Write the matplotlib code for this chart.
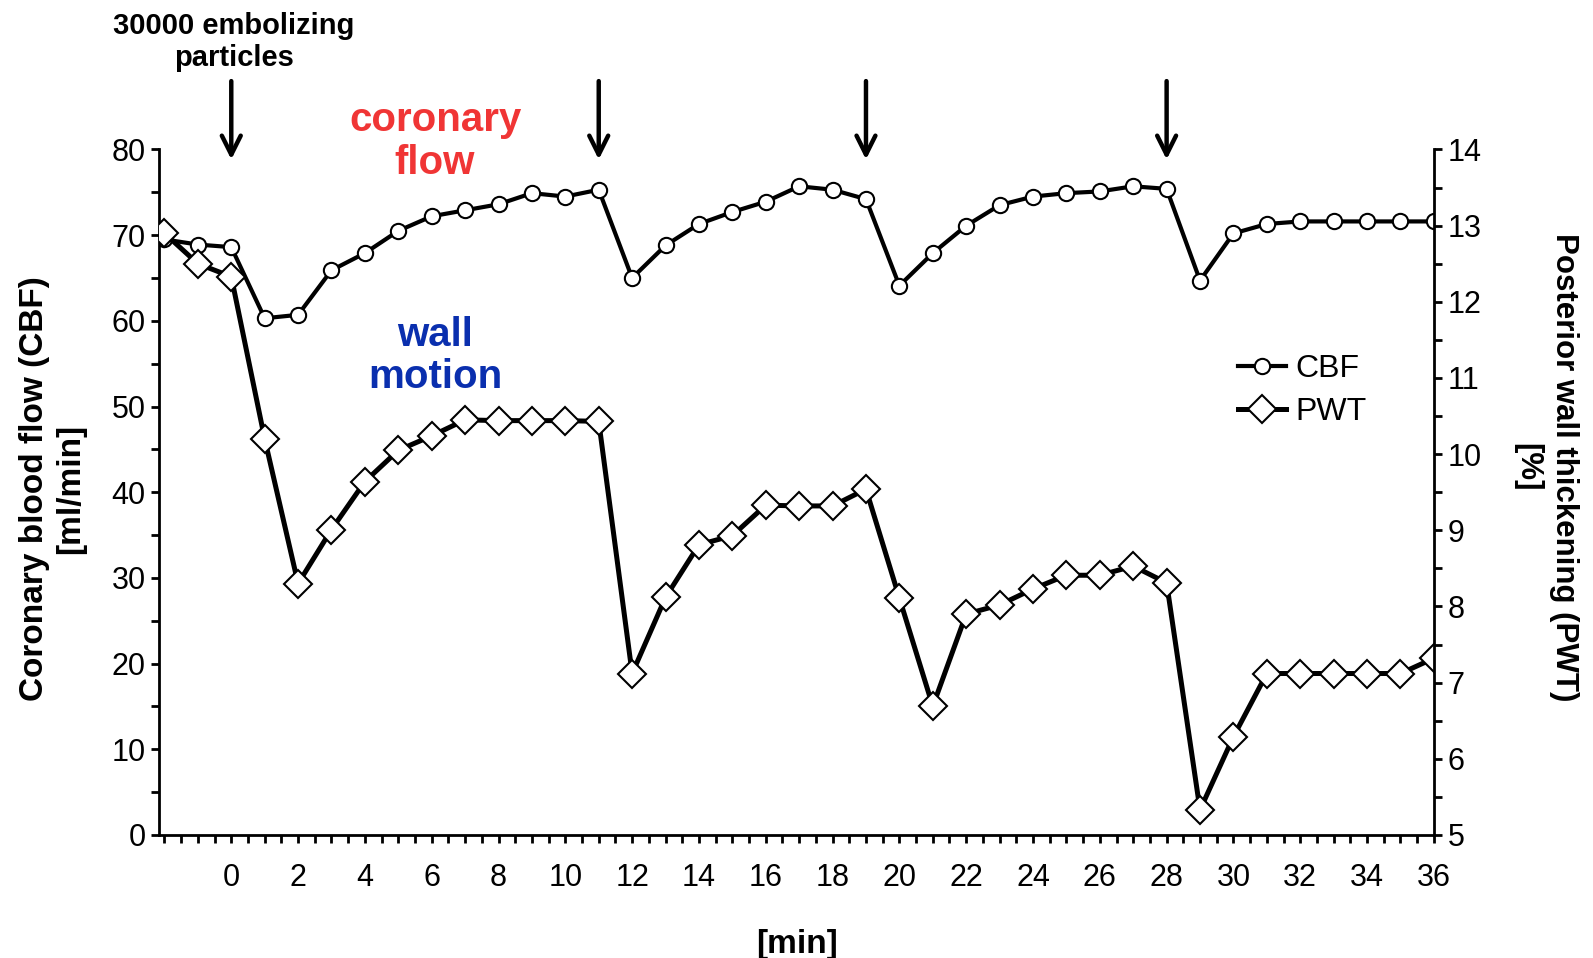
import numpy as np
import matplotlib
matplotlib.use('Agg')
from matplotlib import pyplot as plt
from matplotlib.ticker import MultipleLocator

plt.rcParams['font.family'] = ['Liberation Sans', 'DejaVu Sans']

# minutes relative to first embolization
minutes = list(range(-2, 37))
# coronary blood flow [ml/min] (left axis)
cbf = [69.5, 68.9, 68.6, 60.3, 60.7, 65.9, 67.9, 70.5, 72.2, 72.9,
       73.6, 74.9, 74.5, 75.3, 65.0, 68.8, 71.3, 72.7, 73.9, 75.7,
       75.3, 74.2, 64.1, 67.9, 71.1, 73.5, 74.5, 74.9, 75.1, 75.7,
       75.4, 64.7, 70.2, 71.3, 71.6, 71.6, 71.6, 71.6, 71.6]
# posterior wall thickening [%] (right axis)
pwt = [12.9, 12.5, 12.33, 10.2, 8.3, 9.01, 9.64, 10.05, 10.24, 10.45,
       10.44, 10.44, 10.44, 10.43, 7.12, 8.12, 8.81, 8.93, 9.33, 9.32,
       9.32, 9.54, 8.11, 6.69, 7.9, 8.02, 8.23, 8.41, 8.41, 8.53,
       8.31, 5.33, 6.29, 7.12, 7.12, 7.12, 7.12, 7.12, 7.32]
# embolization times (arrows)
emboli = [0, 11, 19, 28]

fig = plt.figure(figsize=(15.93, 9.58), dpi=100)
ax = fig.add_axes([0.1001, 0.1284, 0.8, 0.7156])
ax2 = ax.twinx()

ax.plot(minutes, cbf, color='black', lw=3, marker='o', ms=11,
        mfc='white', mec='black', mew=1.5, label='CBF')
ax2.plot(minutes, pwt, color='black', lw=3.6, marker='D', ms=14,
         mfc='white', mec='black', mew=1.5, label='PWT')

ax.set_xlim(-2.15, 36)
ax.set_ylim(0, 80)
ax2.set_ylim(5, 14)

ax.xaxis.set_minor_locator(MultipleLocator(0.5))
ax.set_xticks(range(0, 37, 2))
ax.yaxis.set_major_locator(MultipleLocator(10))
ax.yaxis.set_minor_locator(MultipleLocator(5))
ax2.yaxis.set_major_locator(MultipleLocator(1))
ax2.yaxis.set_minor_locator(MultipleLocator(0.5))

for a in (ax, ax2):
    a.spines['top'].set_visible(False)
    for s in a.spines.values():
        s.set_linewidth(2)
ax.spines['right'].set_visible(False)
ax2.spines['left'].set_visible(False)
ax2.spines['bottom'].set_visible(False)

ax.tick_params(axis='x', which='both', direction='out', length=6, width=2,
               labelsize=22, pad=14)
ax.tick_params(axis='y', which='both', direction='out', length=6, width=2,
               labelsize=22, pad=4)
ax2.tick_params(axis='y', which='both', direction='out', length=6, width=2,
                labelsize=22, pad=4)

ax.set_xlabel('[min]', fontsize=24, fontweight='bold', labelpad=26)

fig.text(0.033, 0.49, 'Coronary blood flow (CBF)\n[ml/min]', rotation=90,
         ha='center', va='center', fontsize=24, fontweight='bold',
         linespacing=1.25, multialignment='center')
fig.text(0.97, 0.512, 'Posterior wall thickening (PWT)\n[%]', rotation=270,
         ha='center', va='center', fontsize=22.5, fontweight='bold',
         linespacing=1.3, multialignment='center')

fig.text(0.147, 0.956, '30000 embolizing\nparticles', ha='center',
         va='center', fontsize=21, fontweight='bold', linespacing=1.2)

for t in emboli:
    ax.annotate('', xy=(t, 78.5), xytext=(t, 88.3), xycoords='data',
                annotation_clip=False,
                arrowprops=dict(arrowstyle='->', color='black', lw=3.2,
                                mutation_scale=34))

ax.text(6.1, 80.9, 'coronary\nflow', color='#f03535', fontsize=29,
        fontweight='bold', ha='center', va='center', linespacing=1.15)
ax.text(6.1, 55.9, 'wall\nmotion', color='#0a2fae', fontsize=29,
        fontweight='bold', ha='center', va='center', linespacing=1.15)

h1, l1 = ax.get_legend_handles_labels()
h2, l2 = ax2.get_legend_handles_labels()
ax2.legend(h1 + h2, l1 + l2, loc='upper left', bbox_to_anchor=(0.759, 0.66),
           bbox_transform=fig.transFigure, frameon=False, fontsize=23,
           handlelength=1.5, handletextpad=0.3, labelspacing=0.4)

fig.savefig('out.png', dpi=100)
